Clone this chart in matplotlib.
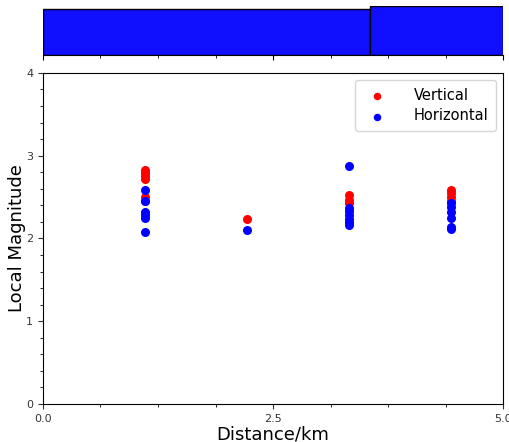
import numpy as np
import matplotlib.pyplot as plt
from matplotlib.ticker import MultipleLocator

# station distances (km) and local magnitudes per component
x_vert = [1.11] * 6 + [2.22] + [3.33] * 3 + [4.44] * 4
ml_vert = [2.83, 2.79, 2.75, 2.72, 2.50, 2.45,
           2.24,
           2.52, 2.47, 2.43,
           2.58, 2.55, 2.50, 2.45]

x_horz = [1.11] * 6 + [2.22] + [3.33] * 7 + [4.44] * 6
ml_horz = [2.58, 2.45, 2.32, 2.28, 2.25, 2.08,
           2.10,
           2.87, 2.37, 2.33, 2.28, 2.24, 2.20, 2.16,
           2.43, 2.38, 2.32, 2.25, 2.14, 2.11]

# counts for the distance histogram on top
bin_edges = [0.0, 3.55, 5.0]
bin_counts = [15, 16]

fig = plt.figure(figsize=(5.1, 4.42), dpi=100)
ax = fig.add_axes([0.0843, 0.086, 0.902, 0.749])
ax_top = fig.add_axes([0.0843, 0.8756, 0.902, 0.1104], sharex=ax)

ax.scatter(x_vert, ml_vert, s=30, color='red', label='Vertical')
ax.scatter(x_horz, ml_horz, s=30, color='blue', label='Horizontal')
ax.set_xlim(0, 5)
ax.set_ylim(0, 4)
ax.set_xticks([0, 2.5, 5])
ax.set_xticklabels(['0.0', '2.5', '5.0'])
ax.set_yticks([0, 1, 2, 3, 4])
ax.xaxis.set_minor_locator(MultipleLocator(0.625))
ax.yaxis.set_minor_locator(MultipleLocator(0.2))
ax.tick_params(labelsize=8, colors='#333333', labelcolor='#333333')
ax.set_xlabel('Distance/km', fontsize=13, labelpad=1)
ax.set_ylabel('Local Magnitude', fontsize=13, labelpad=0)
ax.legend(loc='upper right', fontsize=10.5, handletextpad=1.5,
          borderpad=0.5, labelspacing=0.4, markerscale=0.8)

widths = np.diff(bin_edges)
ax_top.bar(bin_edges[:-1], bin_counts, width=widths, align='edge',
           color='#1010ff', edgecolor='black', linewidth=1)
ax_top.set_ylim(0, max(bin_counts))
for side in ['top', 'left', 'right']:
    ax_top.spines[side].set_visible(False)
ax_top.set_yticks([])
ax_top.tick_params(axis='x', which='both', labelbottom=False)

fig.savefig('out.png', dpi=100)
